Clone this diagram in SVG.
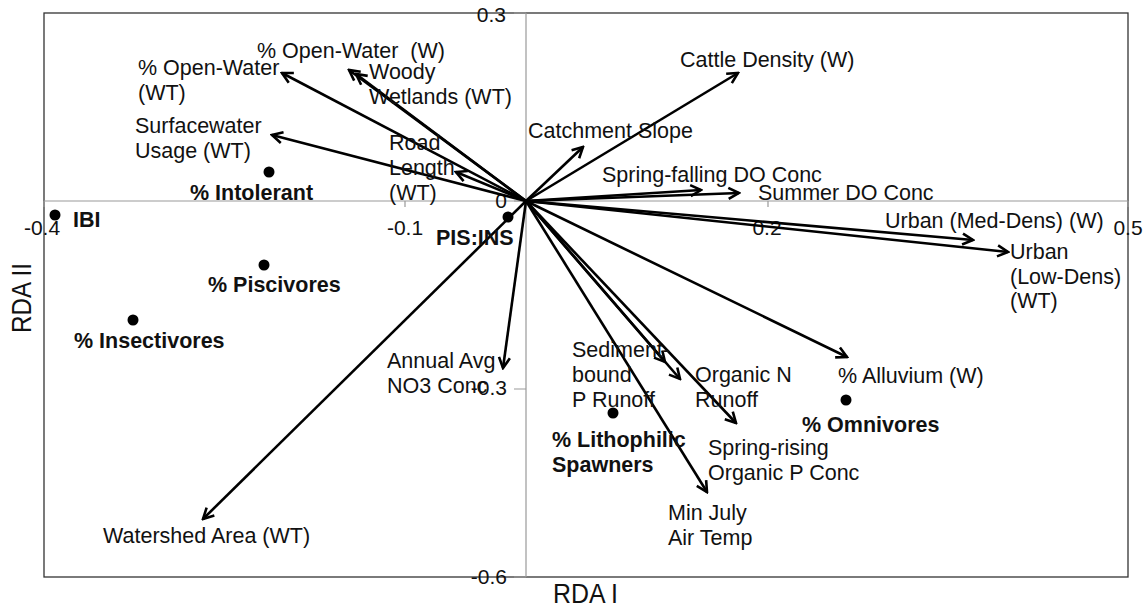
<svg xmlns="http://www.w3.org/2000/svg" width="1148" height="607" viewBox="0 0 1148 607">
<style>
text{font-family:"Liberation Sans",Arial,sans-serif;font-size:21.5px;fill:#111}
.b{font-weight:bold}
.tick{font-size:21px}
.arr{stroke:#000;stroke-width:2.6;fill:none;marker-end:url(#ah)}
.ax{stroke:#999;stroke-width:1.2}
.dot{fill:#000}
</style>
<defs>
<marker id="ah" viewBox="0 0 14 14" refX="12" refY="7" markerWidth="14" markerHeight="14" orient="auto" markerUnits="userSpaceOnUse">
<path d="M1.5,1.5 L12,7 L1.5,12.5" fill="none" stroke="#000" stroke-width="2.6" stroke-linejoin="miter"/>
</marker>
</defs>
<rect width="1148" height="607" fill="#fff"/>
<g id="axes">
<rect x="44" y="13" width="1084" height="564" fill="none" stroke="#333" stroke-width="1.3"/>
<line class="ax" x1="44" y1="201" x2="1128" y2="201"/>
<line class="ax" x1="526" y1="13" x2="526" y2="577"/>
<path class="ax" d="M405,201 v6 M768,201 v6 M44,201 v6 M1128,201 v6 M514,13 h12 M514,201 h12 M514,389 h12 M514,577 h12" fill="none"/>
<text class="tick" x="506" y="22" text-anchor="end">0.3</text>
<text class="tick" x="507" y="208" text-anchor="end">0</text>
<text class="tick" x="507" y="395" text-anchor="end">-0.3</text>
<text class="tick" x="507" y="584" text-anchor="end">-0.6</text>
<text class="tick" x="42" y="235" text-anchor="middle">-0.4</text>
<text class="tick" x="405" y="235" text-anchor="middle">-0.1</text>
<text class="tick" x="767" y="235" text-anchor="middle">0.2</text>
<text class="tick" x="1128" y="235" text-anchor="middle">0.5</text>
<text x="553" y="603" font-size="27" textLength="65" lengthAdjust="spacingAndGlyphs" style="font-size:27px">RDA I</text>
<text transform="translate(31,298) rotate(-90)" text-anchor="middle" textLength="70" lengthAdjust="spacingAndGlyphs" style="font-size:27px">RDA II</text>
</g>
<g id="connectors">
<line class="arr" x1="526" y1="201" x2="282" y2="73"/>
<line class="arr" x1="526" y1="201" x2="349" y2="70"/>
<line class="arr" x1="526" y1="201" x2="356" y2="74"/>
<line class="arr" x1="526" y1="201" x2="272" y2="135"/>
<line class="arr" x1="526" y1="201" x2="456" y2="172"/>
<line class="arr" x1="526" y1="201" x2="583" y2="147"/>
<line class="arr" x1="526" y1="201" x2="738" y2="73"/>
<line class="arr" x1="526" y1="201" x2="701" y2="190"/>
<line class="arr" x1="526" y1="201" x2="739" y2="193"/>
<line class="arr" x1="526" y1="201" x2="973" y2="240"/>
<line class="arr" x1="526" y1="201" x2="1008" y2="252"/>
<line class="arr" x1="526" y1="201" x2="847" y2="357"/>
<line class="arr" x1="526" y1="201" x2="665" y2="362"/>
<line class="arr" x1="526" y1="201" x2="680" y2="379"/>
<line class="arr" x1="526" y1="201" x2="736" y2="423"/>
<line class="arr" x1="526" y1="201" x2="707" y2="492"/>
<line class="arr" x1="526" y1="201" x2="503" y2="368"/>
<line class="arr" x1="526" y1="201" x2="203" y2="519"/>
</g>
<g id="env-open-water-wt"><text x="138" y="75">% Open-Water<tspan x="138" dy="25">(WT)</tspan></text></g>
<g id="env-open-water-w"><text x="257" y="58" xml:space="preserve">% Open-Water  (W)</text></g>
<g id="env-woody"><text x="369" y="79">Woody<tspan x="369" dy="25">Wetlands (WT)</tspan></text></g>
<g id="env-surface"><text x="135" y="133">Surfacewater<tspan x="135" dy="25">Usage (WT)</tspan></text></g>
<g id="env-road"><text x="389" y="150">Road<tspan x="389" dy="25">Length</tspan><tspan x="389" dy="25">(WT)</tspan></text></g>
<g id="env-cattle"><text x="680" y="67">Cattle Density (W)</text></g>
<g id="env-catchment"><text x="528" y="138">Catchment Slope</text></g>
<g id="env-springfall"><text x="602" y="182">Spring-falling DO Conc</text></g>
<g id="env-summer"><text x="758" y="200">Summer DO Conc</text></g>
<g id="env-urban-med"><text x="885" y="228">Urban (Med-Dens) (W)</text></g>
<g id="env-urban-low"><text x="1010" y="259">Urban<tspan x="1010" dy="25">(Low-Dens)</tspan><tspan x="1010" dy="24">(WT)</tspan></text></g>
<g id="env-alluvium"><text x="838" y="383">% Alluvium (W)</text></g>
<g id="env-organicN"><text x="695" y="382">Organic N<tspan x="695" dy="25">Runoff</tspan></text></g>
<g id="env-sediment"><text x="572" y="357">Sediment-<tspan x="572" dy="25">bound</tspan><tspan x="572" dy="25">P Runoff</tspan></text></g>
<g id="env-springrise"><text x="708" y="455">Spring-rising<tspan x="708" dy="25">Organic P Conc</tspan></text></g>
<g id="env-minjuly"><text x="668" y="520">Min July<tspan x="668" dy="25">Air Temp</tspan></text></g>
<g id="env-annual"><text x="387" y="368">Annual Avg<tspan x="387" dy="25">NO3 Conc</tspan></text></g>
<g id="env-watershed"><text x="103" y="543">Watershed Area (WT)</text></g>
<g id="sp-intolerant"><circle class="dot" cx="269" cy="172" r="5.5"/><text class="b" x="190" y="200">% Intolerant</text></g>
<g id="sp-ibi"><circle class="dot" cx="55" cy="215" r="5.5"/><text class="b" x="73" y="227">IBI</text></g>
<g id="sp-piscivores"><circle class="dot" cx="264" cy="265" r="5.5"/><text class="b" x="208" y="292">% Piscivores</text></g>
<g id="sp-insectivores"><circle class="dot" cx="133" cy="320" r="5.5"/><text class="b" x="74" y="348">% Insectivores</text></g>
<g id="sp-pisins"><circle class="dot" cx="508" cy="217" r="5.5"/><text class="b" x="436" y="245">PIS:INS</text></g>
<g id="sp-lithophilic"><circle class="dot" cx="613" cy="413" r="5.5"/><text class="b" x="552" y="447">% Lithophilic<tspan x="552" dy="25">Spawners</tspan></text></g>
<g id="sp-omnivores"><circle class="dot" cx="846" cy="400" r="5.5"/><text class="b" x="802" y="432">% Omnivores</text></g>
</svg>
